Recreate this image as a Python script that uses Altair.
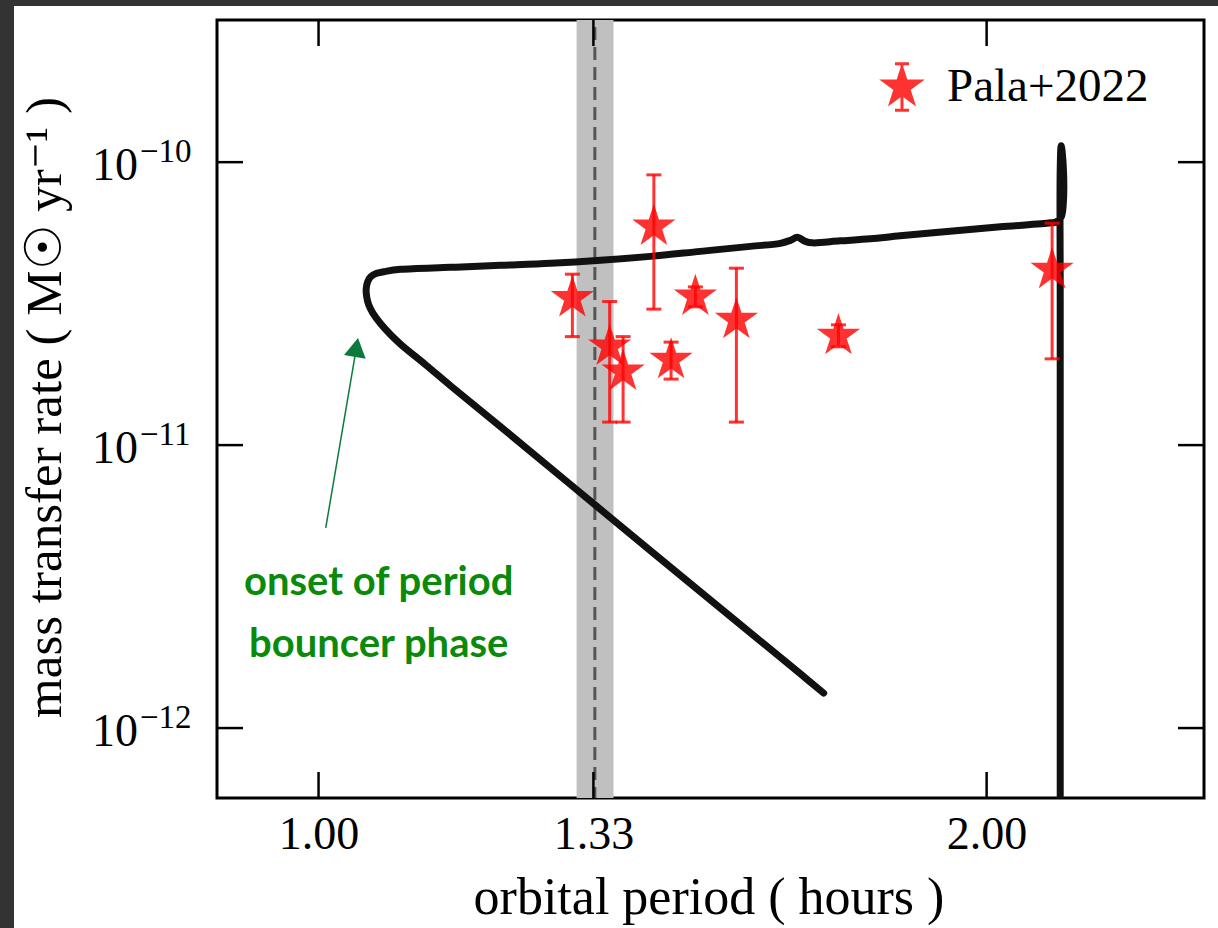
import altair as alt
import pandas as pd

# ---------------- data ----------------
# evolutionary track (time order): orbital period [h], mass transfer rate [Msun/yr]
track_period = [2.1587, 2.1587, 2.1587, 2.1609, 2.1654, 2.1654, 2.1609, 2.1498, 2.1369, 2.0288,
                1.9256, 1.8283, 1.7722, 1.7180, 1.6691, 1.6570, 1.6434, 1.6315, 1.6147,
                1.5652, 1.4861, 1.4111, 1.3398, 1.2722, 1.2079, 1.1469, 1.0890, 1.0721,
                1.0622, 1.0556, 1.0523, 1.0507, 1.0512, 1.0534, 1.0578, 1.0666, 1.0777,
                1.0890, 1.1176, 1.1469, 1.2079, 1.3329, 1.4861, 1.6486, 1.6889]
track_mdot = [1e-13, 3.262e-11, 9.393e-11, 1.1418e-10, 9.783e-11, 7.065e-11, 6.408e-11, 6.152e-11,
              6.103e-11, 5.907e-11, 5.695e-11, 5.490e-11, 5.358e-11, 5.271e-11, 5.186e-11,
              5.250e-11, 5.424e-11, 5.293e-11, 5.165e-11, 5.040e-11, 4.839e-11, 4.646e-11,
              4.498e-11, 4.389e-11, 4.318e-11, 4.249e-11, 4.180e-11, 4.112e-11, 4.046e-11,
              3.932e-11, 3.776e-11, 3.567e-11, 3.342e-11, 3.132e-11, 2.934e-11, 2.683e-11,
              2.454e-11, 2.271e-11, 1.922e-11, 1.620e-11, 1.161e-11, 6.127e-12, 3.031e-12,
              1.555e-12, 1.329e-12]

# Pala+2022 observations
obs_period = [1.3013, 1.3526, 1.3716, 1.4161, 1.4416, 1.4784, 1.5427, 1.7150, 2.1406]
obs_mdot = [3.307e-11, 2.231e-11, 1.820e-11, 5.921e-11, 2.001e-11, 3.350e-11, 2.771e-11, 2.433e-11, 4.164e-11]
obs_hi = [4.019e-11, 3.217e-11, 2.418e-11, 9.018e-11, 2.312e-11, 3.624e-11, 4.220e-11, 2.661e-11, 6.087e-11]
obs_lo = [2.418e-11, 1.206e-11, 1.206e-11, 3.024e-11, 1.711e-11, 3.081e-11, 1.206e-11, 2.226e-11, 2.018e-11]
obs_label = "Pala+2022"

# period minimum band and its centre
band_lo, band_hi, band_mid = 1.307, 1.358, 1.332

# axes
x_domain = [0.9, 2.506]
y_domain = [5.66e-13, 3.18e-10]
x_ticks = [1.0, 1.33, 2.0]
y_ticks = [1e-10, 1e-11, 1e-12]
y_tick_base = ["10", "10", "10"]
y_tick_exp = ["\u221210", "\u221211", "\u221212"]

# annotation
note_text = "onset of period\nbouncer phase"
note_pos = [1.0644, 2.958e-12]
arrow_tail = [1.0075, 5.102e-12]
arrow_head = [1.0401, 2.213e-11]

# ---------------- styling ----------------
W, H = 987, 778
PADL, PADT, PADR, PADB = 217, 20, 14, 130
SERIF = "Liberation Serif"
SANS = "Lato, Roboto, sans-serif"
RED = "#ff0000"

STAR = ("M0,-1L0.2245,-0.309L0.9511,-0.309L0.3633,0.118L0.5878,0.809L0,0.382"
        "L-0.5878,0.809L-0.3633,0.118L-0.9511,-0.309L-0.2245,-0.309Z")
LEGEND_SYM = ("M0,-0.82L0.1841,-0.2534L0.7799,-0.2534L0.2979,0.0968L0.482,0.6634L0,0.3132"
              "L-0.482,0.6634L-0.2979,0.0968L-0.7799,-0.2534L-0.1841,-0.2534Z"
              "M0,-1L0,1M-0.3,-1L0.3,-1M-0.3,1L0.3,1")

xs = alt.Scale(type="log", domain=x_domain, nice=False)
ys = alt.Scale(type="log", domain=y_domain, nice=False)

x_axis = alt.Axis(values=x_ticks, format=".2f", ticks=False, tickSize=0, domain=False, grid=False,
                  labelFont=SERIF, labelFontSize=46, labelColor="black", labelPadding=50,
                  labelBaseline="alphabetic", labelOverlap=False, labelFlush=False,
                  title="orbital period ( hours )", titleFont=SERIF, titleFontSize=52,
                  titleFontWeight="normal", titleColor="black", titleX=W / 2 - 2, titleY=115,
                  titleBaseline="alphabetic")
y_axis = alt.Axis(values=y_ticks, labels=False, ticks=False, tickSize=0, domain=False, grid=False,
                  title="mass transfer rate ( M\u2609 yr\u207b\u00b9 )", titleFont=SERIF,
                  titleFontSize=51, titleFontWeight="normal", titleColor="black",
                  titleX=-157, titleY=H / 2 - 2, titleAngle=270, titleBaseline="alphabetic")


def X(field):
    return alt.X(field, scale=xs, axis=x_axis)


def Y(field):
    return alt.Y(field, scale=ys, axis=y_axis)


one = pd.DataFrame({"a": [0]})

# dark frame strips of the screenshot
strip_left = alt.Chart(one).mark_rect(color="#333333", clip=False).encode(
    x=alt.value(-PADL), x2=alt.value(-PADL + 14), y=alt.value(-PADT), y2=alt.value(H + PADB))
strip_top = alt.Chart(one).mark_rect(color="#333333", clip=False).encode(
    x=alt.value(-PADL), x2=alt.value(W + PADR), y=alt.value(-PADT), y2=alt.value(-PADT + 6))

band = alt.Chart(pd.DataFrame({"lo": [band_lo], "hi": [band_hi]})).mark_rect(
    color="#c0c0c0").encode(x=X("lo:Q"), x2="hi:Q", y=alt.value(0), y2=alt.value(H))

dashed = alt.Chart(pd.DataFrame({"v": [band_mid]})).mark_rule(
    color="#555555", strokeWidth=3, strokeDash=[13, 7], strokeDashOffset=13).encode(
    x=X("v:Q"), y=alt.value(0), y2=alt.value(H))

track_df = pd.DataFrame({"P": track_period, "M": track_mdot, "i": range(len(track_period))})
curve = alt.Chart(track_df).mark_line(
    color="#111111", strokeWidth=7, strokeCap="round", strokeJoin="round", clip=True,
    interpolate="catmull-rom").encode(x=X("P:Q"), y=Y("M:Q"), order="i:Q")

obs_df = pd.DataFrame({"P": obs_period, "M": obs_mdot, "lo": obs_lo, "hi": obs_hi,
                       "series": [obs_label] * len(obs_period)})
err = alt.Chart(obs_df).mark_rule(color=RED, strokeWidth=3, opacity=0.8).encode(
    x=X("P:Q"), y=Y("lo:Q"), y2="hi:Q")
cap_lo = alt.Chart(obs_df).mark_tick(color=RED, orient="horizontal", size=15, thickness=3,
                                     opacity=0.8).encode(x=X("P:Q"), y=Y("lo:Q"))
cap_hi = alt.Chart(obs_df).mark_tick(color=RED, orient="horizontal", size=15, thickness=3,
                                     opacity=0.8).encode(x=X("P:Q"), y=Y("hi:Q"))

stars = alt.Chart(obs_df).mark_point(
    shape=STAR, filled=True, size=1521, opacity=0.8, stroke=RED, strokeWidth=2).encode(
    x=X("P:Q"), y=Y("M:Q"),
    color=alt.Color("series:N", scale=alt.Scale(range=[RED]),
                    legend=alt.Legend(title=None, orient="none", legendX=660, legendY=42,
                                      padding=0, symbolType=LEGEND_SYM, symbolSize=2172,
                                      symbolStrokeColor=RED, symbolStrokeWidth=3,
                                      symbolFillColor=RED, symbolOpacity=0.8,
                                      labelFont=SERIF, labelFontSize=47, labelColor="black",
                                      labelOffset=20, labelLimit=400)))

# annotation
arrow_df = pd.DataFrame({"x": [arrow_tail[0]], "y": [arrow_tail[1]],
                         "x2": [arrow_head[0]], "y2": [arrow_head[1]]})
arrow_line = alt.Chart(arrow_df).mark_rule(color="#0b7a3c", strokeWidth=1.5).encode(
    x=X("x:Q"), y=Y("y:Q"), x2="x2:Q", y2="y2:Q")
arrow_tip = alt.Chart(arrow_df).mark_point(
    shape="triangle-up", filled=True, size=484, angle=9.66, color="#0b7a3c", opacity=1).encode(
    x=X("x2:Q"), y=Y("y2:Q"))
note = alt.Chart(pd.DataFrame({"x": [note_pos[0]], "y": [note_pos[1]], "t": [note_text]})).mark_text(
    font=SANS, fontWeight="bold", fontSize=40, color="#0a8a0a", align="center",
    baseline="alphabetic", lineBreak="\n", lineHeight=62).encode(
    x=X("x:Q"), y=Y("y:Q"), text="t:N")

# y tick labels as 10^{-n}
ytl = pd.DataFrame({"v": y_ticks, "b": y_tick_base, "e": y_tick_exp})
ylab_base = alt.Chart(ytl).mark_text(font=SERIF, fontSize=46, align="right",
                                     baseline="alphabetic", dy=18, color="black").encode(
    x=alt.value(-79), y=Y("v:Q"), text="b:N")
ylab_exp = alt.Chart(ytl).mark_text(font=SERIF, fontSize=33, align="left",
                                    baseline="alphabetic", dy=0, color="black").encode(
    x=alt.value(-77), y=Y("v:Q"), text="e:N")

# inward ticks on all four sides
xt = pd.DataFrame({"v": x_ticks})
yt = pd.DataFrame({"v": y_ticks})
tick_b = alt.Chart(xt).mark_rule(color="black", strokeWidth=2.5).encode(
    x=X("v:Q"), y=alt.value(H - 26), y2=alt.value(H))
tick_t = alt.Chart(xt).mark_rule(color="black", strokeWidth=2.5).encode(
    x=X("v:Q"), y=alt.value(0), y2=alt.value(26))
tick_l = alt.Chart(yt).mark_rule(color="black", strokeWidth=2.5).encode(
    y=Y("v:Q"), x=alt.value(0), x2=alt.value(26))
tick_r = alt.Chart(yt).mark_rule(color="black", strokeWidth=2.5).encode(
    y=Y("v:Q"), x=alt.value(W - 26), x2=alt.value(W))

chart = alt.layer(
    strip_left, strip_top, band, dashed, curve, err, cap_lo, cap_hi, stars,
    arrow_line, arrow_tip, note, ylab_base, ylab_exp, tick_b, tick_t, tick_l, tick_r
).properties(
    width=W, height=H, background="white",
    autosize=alt.AutoSizeParams(type="none"),
    padding={"left": PADL, "top": PADT, "right": PADR, "bottom": PADB},
).configure_view(stroke="black", strokeWidth=3)

chart.save("out.html", embed_options={"renderer": "svg", "actions": False})
